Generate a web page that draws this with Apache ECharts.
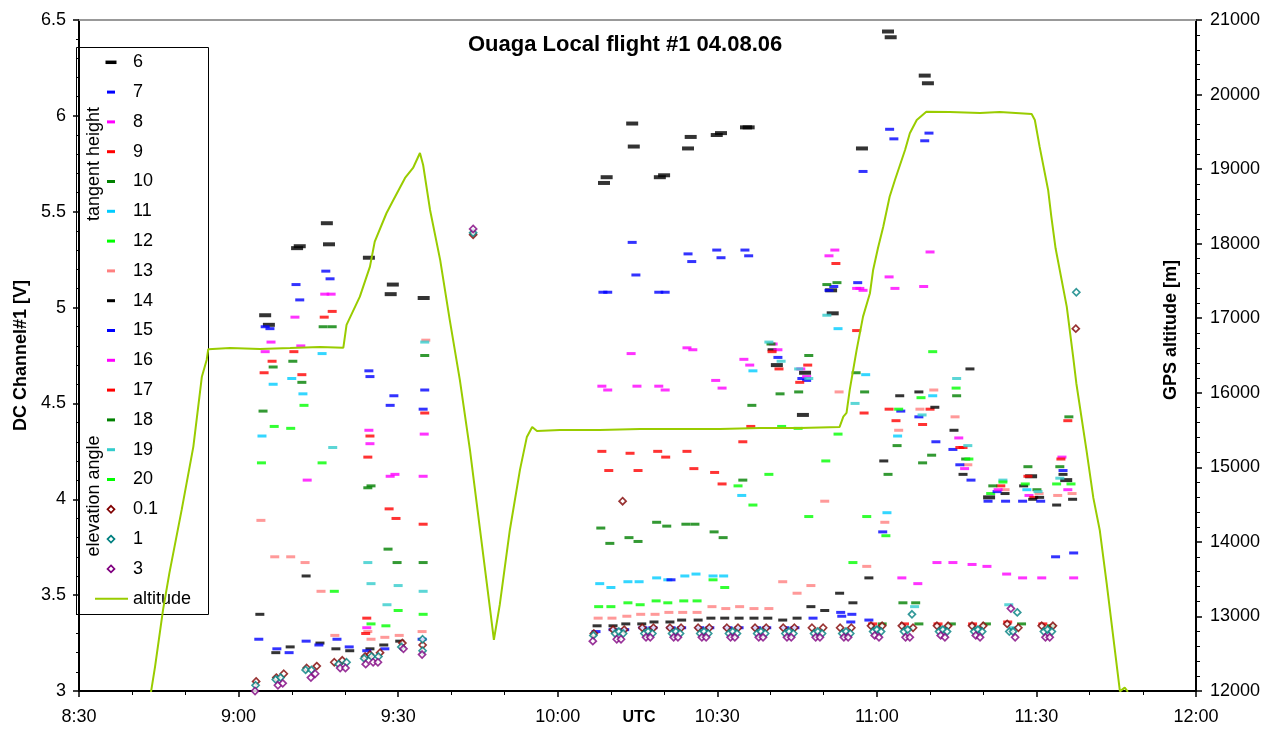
<!DOCTYPE html>
<html><head><meta charset="utf-8">
<script src="https://cdn.jsdelivr.net/npm/echarts@6/dist/echarts.min.js"></script>
<style>html,body{margin:0;padding:0;background:#fff}#chart{width:1280px;height:731px}</style>
</head><body><div id="chart"></div>
<script>
// ---- axis ticks (time in minutes after midnight, UTC) ----
const xTickValues = [510,540,570,600,630,660,690,720];
const xTickLabels = ['8:30','9:00','9:30','10:00','10:30','11:00','11:30','12:00'];

// ---- series names (tangent height 6..20, elevation angle 0.1/1/3) ----
const seriesNames = ['6','7','8','9','10','11','12','13','14','15','16','17','18','19','20','0.1','1','3'];

// ---- data: [time (min), DC Channel#1 (V)] ----
const s6 = [[545.0,4.96],[545.7,4.91],[551.0,5.31],[551.5,5.32],[556.6,5.44],[557.0,5.33],[564.5,5.26],[569.0,5.12],[568.6,5.07],[574.8,5.05],[608.7,5.65],[609.2,5.68],[614.0,5.96],[614.3,5.84],[619.2,5.68],[620.0,5.69],[624.5,5.83],[625.0,5.89],[629.9,5.90],[630.7,5.91],[635.4,5.94],[635.9,5.94],[641.2,4.70],[646.5,4.66],[646.1,4.44],[651.4,5.09],[651.7,4.97],[657.2,5.83],[662.1,6.44],[662.6,6.41],[669.0,6.21],[669.6,6.17],[681.1,4.01],[689.0,4.12],[695.6,4.10]];
const s7 = [[556.4,5.19],[557.2,5.15],[550.8,5.12],[551.5,5.04],[545.0,4.90],[545.9,4.89],[608.5,5.08],[609.4,5.08],[614.7,5.17],[614.0,5.34],[619.0,5.08],[620.2,5.08],[624.5,5.28],[625.2,5.24],[629.9,5.30],[630.7,5.26],[635.2,5.30],[635.9,5.27],[651.0,5.09],[651.9,5.11],[656.4,5.13],[657.4,5.71],[662.4,5.93],[663.2,5.88],[669.0,5.87],[669.8,5.91]];
const s8 = [[556.2,5.07],[557.4,5.07],[550.6,4.95],[546.1,4.82],[551.7,4.80],[545.0,4.77],[613.8,4.76],[624.3,4.79],[625.4,4.78],[608.3,4.59],[609.4,4.57],[614.9,4.59],[619.0,4.59],[620.2,4.57],[635.0,4.73],[636.1,4.70],[629.7,4.62],[630.9,4.58],[656.8,5.10],[662.3,5.16],[663.4,5.10],[668.8,5.11],[670.0,5.29],[688.6,4.02],[695.9,4.05]];
const s9 = [[557.6,4.98],[556.1,4.95],[550.4,4.77],[546.3,4.72],[544.8,4.66],[551.9,4.65],[608.3,4.25],[613.6,4.24],[618.8,4.25],[624.3,4.25],[609.6,4.15],[615.1,4.15],[620.3,4.22],[625.6,4.16],[629.5,4.14],[630.9,4.08],[634.8,4.30],[636.3,4.38],[657.6,4.45],[670.0,4.47],[663.6,4.41],[689.5,4.01]];
const s10 = [[555.9,4.90],[557.6,4.90],[550.2,4.72],[546.5,4.69],[551.9,4.61],[544.6,4.46],[608.1,3.85],[609.8,3.77],[613.4,3.80],[615.1,3.78],[618.6,3.88],[620.5,3.86],[624.1,3.87],[625.8,3.87],[629.4,3.83],[631.1,3.80],[634.8,4.10],[636.5,4.49],[641.8,4.55],[645.3,4.56],[657.7,4.56],[668.6,4.19],[662.1,4.13],[690.1,4.05]];
const s11 = [[555.7,4.76],[550.0,4.63],[546.5,4.60],[552.1,4.55],[544.4,4.33],[607.9,3.56],[610.0,3.54],[613.2,3.57],[615.3,3.57],[618.6,3.59],[620.7,3.58],[623.9,3.60],[626.0,3.61],[629.2,3.60],[631.2,3.60],[634.6,4.02],[636.7,4.67],[652.7,4.89],[657.9,4.65],[670.5,4.54],[663.9,4.33],[661.9,3.93],[688.2,4.05]];
const s12 = [[552.3,4.49],[546.7,4.38],[549.8,4.37],[607.7,3.44],[610.0,3.44],[613.2,3.46],[615.5,3.45],[618.5,3.47],[620.7,3.46],[623.7,3.47],[626.2,3.47],[629.2,3.58],[631.4,3.54],[633.9,4.07],[636.7,3.97],[639.7,4.13],[642.1,4.38],[650.4,4.20],[647.2,3.91],[658.1,3.91],[668.3,4.53],[670.5,4.77],[681.4,4.03],[696.5,4.08]];
const s13 = [[544.2,3.89],[546.8,3.70],[549.8,3.70],[552.5,3.67],[555.5,3.52],[558.1,3.29],[564.3,3.31],[564.9,3.27],[567.5,3.28],[570.2,3.29],[574.5,3.31],[575.2,4.83],[607.6,3.38],[610.2,3.38],[613.0,3.39],[615.6,3.40],[618.3,3.40],[620.9,3.41],[623.5,3.41],[626.2,3.41],[629.0,3.44],[631.6,3.43],[634.2,3.44],[636.9,3.43],[639.7,3.43],[642.3,3.57],[645.0,3.51],[647.6,3.55],[650.2,3.99],[658.1,3.65],[661.5,3.88],[652.9,4.56],[668.1,4.47],[670.7,4.57],[674.7,4.43],[664.1,4.36],[677.1,4.18],[684.1,4.05],[690.5,4.03],[694.0,4.02],[696.7,4.03]];
const s14 = [[544.0,3.40],[552.7,3.60],[547.0,3.20],[549.7,3.23],[555.3,3.25],[558.3,3.22],[560.9,3.21],[564.7,3.22],[567.3,3.24],[570.3,3.26],[607.4,3.34],[610.4,3.34],[612.8,3.35],[615.8,3.35],[618.1,3.36],[621.1,3.36],[623.3,3.37],[626.4,3.37],[628.8,3.38],[631.4,3.38],[634.1,3.38],[636.9,3.38],[639.5,3.38],[642.3,3.37],[645.0,3.38],[647.6,3.44],[650.2,3.42],[653.0,3.51],[655.5,3.46],[658.5,3.59],[640.3,4.78],[661.3,4.20],[664.3,4.54],[667.9,4.56],[670.9,4.48],[674.5,4.36],[677.5,4.68],[676.2,4.13],[684.1,4.03],[687.6,4.07],[689.3,4.00],[690.6,4.01],[693.8,3.97],[695.0,4.13],[696.8,4.00]];
const s15 = [[564.5,4.67],[564.7,4.64],[569.2,4.54],[568.5,4.49],[575.0,4.57],[574.7,4.47],[543.8,3.27],[547.2,3.22],[549.5,3.20],[552.7,3.26],[555.1,3.24],[558.5,3.27],[560.8,3.23],[564.1,3.21],[567.5,3.22],[574.5,3.27],[607.2,3.31],[610.4,3.32],[612.6,3.32],[616.0,3.33],[617.9,3.33],[621.3,3.33],[623.3,3.33],[626.7,3.33],[628.6,3.33],[632.0,3.33],[634.1,3.33],[637.4,3.33],[639.3,3.33],[642.7,3.33],[644.6,3.33],[648.0,3.38],[653.2,3.41],[653.4,3.39],[655.3,3.40],[655.1,3.36],[658.5,3.37],[621.3,3.58],[641.4,4.74],[645.9,4.63],[646.8,4.62],[664.5,4.46],[667.9,4.43],[671.1,4.30],[674.3,4.26],[675.6,4.18],[677.7,4.10],[661.1,3.83],[680.9,3.99],[682.6,4.04],[684.2,3.99],[687.4,3.99],[690.8,3.99],[695.0,4.15],[693.6,3.70],[697.0,3.72]];
const s16 = [[564.5,4.36],[564.7,4.29],[552.9,4.10],[569.4,4.13],[568.5,4.12],[574.7,4.12],[574.9,4.34],[564.1,3.33],[640.5,4.81],[641.4,4.78],[645.7,4.68],[646.8,4.64],[651.0,5.27],[652.1,5.30],[656.2,5.10],[657.4,5.09],[675.4,4.32],[676.5,4.16],[682.8,4.05],[694.8,4.22],[664.7,3.59],[667.7,3.56],[671.3,3.67],[674.3,3.67],[677.9,3.66],[680.7,3.65],[684.4,3.61],[687.4,3.59],[691.0,3.59],[697.0,3.59]];
const s17 = [[564.7,4.33],[564.3,4.22],[568.3,3.95],[569.6,3.90],[574.7,3.87],[564.1,3.38],[563.9,3.30],[575.0,4.45],[640.3,4.77],[641.6,4.68],[647.0,4.70],[645.5,4.61],[652.3,5.23],[656.2,4.88],[662.3,4.47],[668.6,4.39],[675.6,4.27],[676.2,4.27],[683.3,4.07],[688.4,4.12],[694.6,4.21],[695.9,4.41],[659.2,3.35],[665.2,3.35],[671.5,3.35],[678.0,3.35],[684.6,3.36],[691.2,3.35]];
const s18 = [[564.9,4.07],[564.3,4.06],[568.1,3.74],[569.8,3.67],[574.7,3.67],[575.0,4.75],[640.1,4.81],[647.2,4.75],[650.6,5.12],[652.5,5.13],[656.1,4.66],[663.8,4.28],[670.3,4.23],[675.0,4.54],[676.7,4.21],[681.8,4.07],[688.4,4.17],[694.4,4.17],[696.1,4.43],[664.9,3.46],[667.3,3.46],[661.0,3.35],[667.9,3.35],[674.0,3.35],[680.6,3.35],[687.2,3.35],[692.8,3.34]];
const s19 = [[557.7,4.27],[564.3,3.67],[564.9,3.56],[570.0,3.55],[574.7,3.52],[567.9,3.45],[575.0,4.82],[639.7,4.82],[642.0,4.72],[645.3,4.68],[647.2,4.63],[650.6,4.96],[655.9,4.50],[668.5,4.44],[675.0,4.63],[677.1,4.28],[683.7,4.10],[690.3,4.04],[694.4,4.11],[667.1,3.44],[684.8,3.45],[659.8,3.33],[666.0,3.33],[672.5,3.33],[679.2,3.33],[685.6,3.33],[692.0,3.32]];
const s20 = [[544.3,4.19],[555.7,4.19],[558.0,3.52],[570.0,3.42],[574.7,3.40],[564.9,3.35],[567.7,3.34],[645.2,4.37],[652.7,4.34],[674.9,4.58],[664.1,4.47],[661.7,3.81],[677.3,4.21],[683.7,4.09],[687.9,4.08],[693.8,4.08],[655.5,3.67]];
const e01 = [[543.3,3.05],[547.1,3.07],[548.5,3.09],[552.8,3.12],[554.7,3.13],[558.0,3.15],[559.5,3.16],[563.8,3.18],[564.7,3.19],[566.6,3.20],[570.8,3.25],[574.6,3.24],[584.1,5.38],[612.2,3.99],[697.4,4.89],
  [606.8,3.30],[610.4,3.32],[612.5,3.32],[615.9,3.33],[618.0,3.33],[621.1,3.33],[623.2,3.33],[626.4,3.33],[628.5,3.33],[631.8,3.33],[633.9,3.33],[637.1,3.33],[639.2,3.33],[642.4,3.33],[644.5,3.33],[647.8,3.33],[649.9,3.33],[653.1,3.33],[655.2,3.33],[658.9,3.34],[661.0,3.34],[664.7,3.34],[666.8,3.33],[671.3,3.34],[673.4,3.34],[677.9,3.34],[680.0,3.34],[684.5,3.35],[686.6,3.33],[691.0,3.34],[693.1,3.34]];
const e1 = [[543.2,3.03],[547.0,3.06],[547.9,3.07],[552.6,3.11],[553.7,3.11],[558.8,3.14],[560.3,3.15],[563.6,3.17],[565.0,3.18],[566.3,3.18],[570.6,3.23],[574.6,3.21],[574.6,3.27],[584.1,5.39],[697.5,5.08],
  [606.7,3.29],[610.8,3.30],[611.5,3.31],[612.3,3.30],[616.3,3.30],[617.0,3.31],[617.8,3.30],[621.5,3.30],[622.2,3.31],[623.0,3.30],[626.8,3.30],[627.5,3.31],[628.3,3.30],[632.2,3.30],[632.9,3.31],[633.7,3.30],[637.5,3.30],[638.2,3.31],[639.0,3.30],[642.8,3.30],[643.5,3.31],[644.3,3.30],[648.2,3.30],[648.9,3.31],[649.7,3.30],[653.5,3.30],[654.2,3.31],[655.0,3.30],[659.3,3.31],[660.0,3.32],[660.8,3.31],[665.1,3.31],[665.8,3.32],[666.6,3.40],[671.7,3.31],[672.4,3.32],[673.2,3.31],[678.3,3.31],[679.0,3.32],[679.8,3.31],[684.9,3.31],[685.6,3.31],[686.4,3.41],[691.4,3.31],[692.1,3.32],[692.9,3.31]];
const e3 = [[543.1,3.00],[547.4,3.03],[548.3,3.04],[553.6,3.07],[554.4,3.09],[559.1,3.12],[560.1,3.12],[563.9,3.14],[565.3,3.15],[566.2,3.15],[571.0,3.22],[574.5,3.19],[584.1,5.41],
  [606.6,3.26],[611.1,3.27],[611.9,3.27],[616.6,3.28],[617.4,3.28],[621.8,3.28],[622.6,3.28],[627.1,3.28],[627.9,3.28],[632.5,3.28],[633.3,3.28],[637.8,3.28],[638.6,3.28],[643.1,3.28],[643.9,3.28],[648.5,3.28],[649.3,3.28],[653.8,3.28],[654.6,3.28],[659.6,3.29],[660.4,3.28],[665.4,3.28],[666.2,3.28],[672.0,3.29],[672.8,3.28],[678.6,3.29],[679.4,3.28],[685.2,3.43],[686.0,3.28],[691.7,3.28],[692.5,3.28]];

// ---- GPS altitude [time (min), m] ----
const altitude = [[523.3,11881],[524.3,12328],[525.8,13088],[527.0,13584],[529.3,14429],[531.5,15278],[533.1,16216],[534.0,16440],[534.3,16584],[538.4,16601],[544.0,16588],[549.7,16601],[555.3,16615],[559.7,16605],[560.3,16910],[562.8,17289],[564.7,17692],[565.6,18027],[567.8,18408],[569.1,18586],[571.3,18881],[572.8,19015],[574.1,19216],[574.7,19055],[576.0,18452],[577.9,17782],[579.7,16977],[581.6,16172],[583.5,15233],[585.4,14160],[587.3,13088],[588.0,12685],[589.1,13155],[591.0,14160],[592.9,14966],[594.2,15408],[595.2,15542],[596.1,15488],[600.4,15500],[607.9,15500],[615.5,15515],[623.0,15515],[630.5,15515],[638.0,15528],[645.5,15528],[653.0,15542],[653.7,15680],[654.3,15730],[654.9,16038],[656.2,16575],[657.4,17021],[658.7,17335],[659.3,17648],[660.2,17938],[661.2,18228],[662.4,18630],[663.4,18854],[665.3,19257],[666.2,19481],[667.5,19659],[669.3,19770],[673.7,19766],[679.4,19753],[683.1,19766],[689.1,19739],[689.7,19659],[690.6,19301],[692.2,18720],[692.8,18362],[693.6,17938],[695.7,17155],[696.9,16485],[697.5,16128],[699.4,15234],[700.7,14590],[701.9,14160],[703.2,13446],[705.7,11995],[706.6,12045],[707.2,11990]];

const pointData = [s6,s7,s8,s9,s10,s11,s12,s13,s14,s15,s16,s17,s18,s19,s20,e01,e1,e3];
const seriesColors = ['#000000','#0000FF','#FF00FF','#FF0000','#008000','#00CCFF','#00FF00','#FF8080','#000000','#0000FF','#FF00FF','#FF0000','#008000','#33CCCC','#00FF00','#800000','#008080','#800080'];
const altitudeColor = '#99CC00';
const FONT = '"Liberation Sans", Arial, sans-serif';

const chart = echarts.init(document.getElementById('chart'), null, {renderer:'canvas'});

const series = seriesNames.map((name,i)=>{
  const diamond = i >= 15;
  return {
    name, type:'scatter', data: pointData[i], xAxisIndex:0, yAxisIndex:0,
    symbol: diamond ? 'diamond' : 'rect',
    symbolSize: diamond ? 7 : (i === 0 ? [12,4] : [9,3]),
    itemStyle: diamond ? {color:'#fff', borderColor:seriesColors[i], borderWidth:1.7} : {color:seriesColors[i]},
    silent:true
  };
});
series.push({name:'altitude', type:'line', xAxisIndex:0, yAxisIndex:1, data:altitude, showSymbol:false, symbol:'none',
  lineStyle:{color:altitudeColor, width:2}, silent:true, clip:true});

// legend drawn as graphic
const legendNames = seriesNames.concat(['altitude']);
const rowTop = 62.3, rowStep = 29.8, iconX = 111, textX = 133;
const legendEls = [{type:'rect', shape:{x:76.5,y:47.5,width:132,height:567}, style:{fill:'#fff', stroke:'#000', lineWidth:1}}];
legendNames.forEach((name,i)=>{
  const y = rowTop + i*rowStep;
  if (i < 15) {
    const w = i===0 ? 11 : 8, h = i===0 ? 3.5 : 3;
    legendEls.push({type:'rect', shape:{x:iconX-w/2, y:y-h/2, width:w, height:h}, style:{fill:seriesColors[i]}});
  } else if (i < 18) {
    const r = 3.5;
    legendEls.push({type:'polygon', shape:{points:[[iconX,y-r],[iconX+r,y],[iconX,y+r],[iconX-r,y]]}, style:{fill:'#fff', stroke:seriesColors[i], lineWidth:1.7}});
  } else {
    legendEls.push({type:'line', shape:{x1:95,y1:y,x2:128,y2:y}, style:{stroke:altitudeColor, lineWidth:2}});
  }
  legendEls.push({type:'text', x:textX, y:y, style:{text:name, fill:'#000', fontSize:18, fontFamily:FONT, verticalAlign:'middle', align:'left'}});
});
legendEls.push({type:'text', x:94, y:164, rotation:Math.PI/2, style:{text:'tangent height', fill:'#000', fontSize:18, fontFamily:FONT, align:'center', verticalAlign:'middle'}});
legendEls.push({type:'text', x:94, y:496, rotation:Math.PI/2, style:{text:'elevation angle', fill:'#000', fontSize:18, fontFamily:FONT, align:'center', verticalAlign:'middle'}});

const option = {
  animation:false,
  backgroundColor:'#fff',
  textStyle:{fontFamily:FONT},
  title:{text:'Ouaga Local flight #1 04.08.06', left:468, top:34, padding:0,
    textStyle:{fontSize:22, fontWeight:'bold', color:'#000', fontFamily:FONT}},
  grid:{left:79, right:84, top:20, bottom:40, containLabel:false, outerBoundsMode:'none'},
  xAxis:[{
    type:'value', min:510, max:720, interval:30, position:'bottom',
    axisLine:{show:true, onZero:false, lineStyle:{color:'#000', width:2}},
    axisTick:{show:true, length:6, lineStyle:{color:'#000', width:1.5}},
    minorTick:{show:true, splitNumber:3, length:4, lineStyle:{color:'#000', width:1}},
    axisLabel:{fontSize:18, color:'#000', margin:17, fontFamily:FONT,
      formatter:v=>{const k=xTickValues.indexOf(v); return k>=0?xTickLabels[k]:'';}},
    splitLine:{show:false}, minorSplitLine:{show:false}
  },{
    type:'value', min:510, max:720, position:'top',
    axisLine:{show:true, onZero:false, lineStyle:{color:'#999', width:2}},
    axisTick:{show:false}, axisLabel:{show:false}, splitLine:{show:false}
  }],
  yAxis:[{
    type:'value', min:3, max:6.5, interval:0.5, position:'left',
    name:'DC Channel#1 [V]', nameLocation:'middle', nameGap:49, nameRotate:90,
    nameTextStyle:{fontSize:18, fontWeight:'bold', color:'#000', fontFamily:FONT},
    axisLine:{show:true, lineStyle:{color:'#000', width:2}},
    axisTick:{show:true, length:6, lineStyle:{color:'#000', width:1.5}},
    minorTick:{show:true, splitNumber:5, length:3, lineStyle:{color:'#000', width:1}},
    axisLabel:{fontSize:18, color:'#000', margin:13, fontFamily:FONT},
    splitLine:{show:false}, minorSplitLine:{show:false}
  },{
    type:'value', min:12000, max:21000, interval:1000, position:'right',
    axisLine:{show:true, lineStyle:{color:'#000', width:2}},
    axisTick:{show:true, length:6, lineStyle:{color:'#000', width:1.5}},
    minorTick:{show:true, splitNumber:5, length:4, lineStyle:{color:'#000', width:1}},
    axisLabel:{fontSize:18, color:'#000', margin:14, fontFamily:FONT, formatter:v=>String(v)},
    splitLine:{show:false}, minorSplitLine:{show:false}
  }],
  graphic:[
    {type:'group', z:100, children:legendEls},
    {type:'text', z:100, x:1171, y:330, rotation:Math.PI/2,
      style:{text:'GPS altitude [m]', fill:'#000', fontSize:18, fontWeight:'bold', fontFamily:FONT, align:'center', verticalAlign:'middle'}},
    {type:'text', z:100, x:639, y:718,
      style:{text:'UTC', fill:'#000', fontSize:16, fontWeight:'bold', fontFamily:FONT, align:'center', verticalAlign:'middle'}}
  ],
  series
};
chart.setOption(option);
</script>
</body></html>
